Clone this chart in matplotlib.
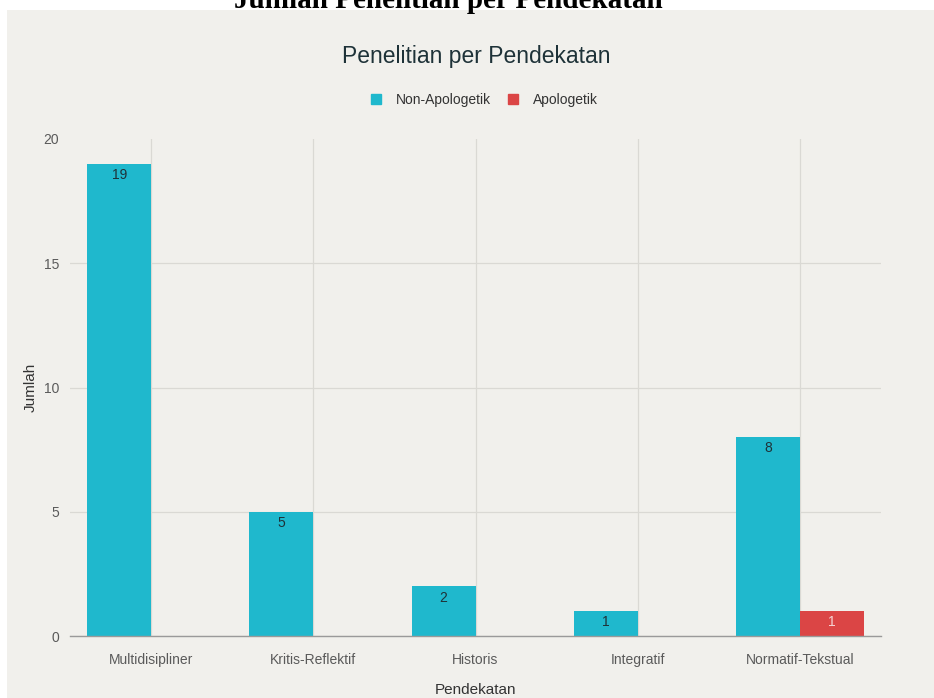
import matplotlib.pyplot as plt
import matplotlib.patches as mpatches
from matplotlib.lines import Line2D
import numpy as np

# Data
categories = ["Multidisipliner", "Kritis-Reflektif", "Historis", "Integratif", "Normatif-Tekstual"]
non_apologetik = [19, 5, 2, 1, 8]
apologetik = [0, 0, 0, 0, 1]
y_ticks = [0, 5, 10, 15, 20]

teal = "#1FB8CD"
red = "#DB4545"
panel_bg = "#F1F0EC"
dark = "#1E3238"

plt.rcParams["font.family"] = ["Liberation Sans", "DejaVu Sans"]

fig = plt.figure(figsize=(9.34, 6.98), dpi=100, facecolor="white")

# beige panel behind the chart
fig.patches.append(mpatches.Rectangle((7 / 934, 0), 1, 1 - 10 / 698,
                                      transform=fig.transFigure,
                                      facecolor=panel_bg, edgecolor="none", zorder=-10))

# outer title, cut off at the top edge like in the source image
fig.text(448 / 934, 1 - 8 / 698, "Jumlah Penelitian per Pendekatan",
         ha="center", va="baseline", fontsize=21, fontweight="bold",
         family="Liberation Serif", color="black")

ax = fig.add_axes([70 / 934, 1 - 636 / 698, (881 - 70) / 934, (636 - 139) / 698])
ax.set_facecolor("none")

x = np.arange(len(categories))
w = 0.394

bars1 = ax.bar(x - w / 2, non_apologetik, w, color=teal, zorder=3, label="Non-Apologetik")
bars2 = ax.bar(x + w / 2, apologetik, w, color=red, zorder=3, label="Apologetik")

for b, v in zip(bars1, non_apologetik):
    if v > 0:
        ax.text(b.get_x() + b.get_width() / 2, v - 0.17, str(v), ha="center", va="top",
                fontsize=10, color=dark, zorder=4)
for b, v in zip(bars2, apologetik):
    if v > 0:
        ax.text(b.get_x() + b.get_width() / 2, v - 0.17, str(v), ha="center", va="top",
                fontsize=10, color="#F6D3D3", zorder=4)

ax.set_xlim(-0.5, len(categories) - 0.5)
ax.set_ylim(0, 20)
ax.set_yticks(y_ticks)
ax.set_xticks(x)
ax.set_xticklabels(categories)
ax.tick_params(axis="both", length=0, labelsize=10, colors="#5A5A5A")
ax.tick_params(axis="x", pad=12)
ax.tick_params(axis="y", pad=8)

ax.grid(True, color="#DAD9D4", linewidth=0.9, zorder=0)
# no gridline drawn at the top value
ax.yaxis.get_gridlines()[-1].set_visible(False)
for s in ["top", "right", "left"]:
    ax.spines[s].set_visible(False)
ax.spines["bottom"].set_color("#9A9A9A")
ax.spines["bottom"].set_linewidth(1.0)
ax.spines["bottom"].set_zorder(5)

ax.set_xlabel("Pendekatan", fontsize=11, color="#333333", labelpad=12)
ax.set_ylabel("Jumlah", fontsize=11, color="#333333", labelpad=4)

fig.text(476 / 934, 1 - 56 / 698, "Penelitian per Pendekatan", ha="center", va="center",
         fontsize=16.5, color=dark)

handles = [Line2D([], [], marker="s", linestyle="none", markersize=7, color=teal),
           Line2D([], [], marker="s", linestyle="none", markersize=7, color=red)]
fig.legend(handles, ["Non-Apologetik", "Apologetik"], loc="center",
           bbox_to_anchor=(480 / 934, 1 - 100 / 698), ncol=2, frameon=False,
           fontsize=10, handletextpad=0.4, columnspacing=0.6, labelcolor="#333333")

fig.savefig("out.png", dpi=100, facecolor="white")
